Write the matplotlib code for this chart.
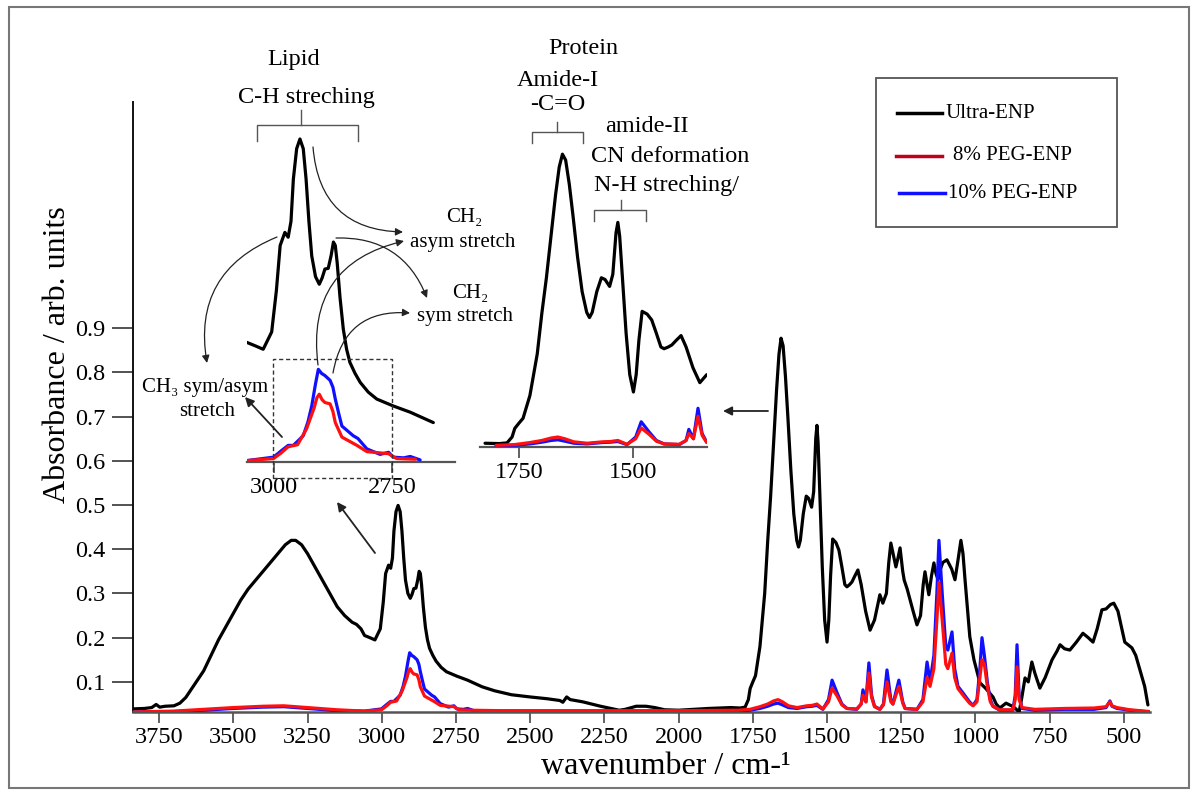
import numpy as np
import matplotlib
matplotlib.use("Agg")
import matplotlib.pyplot as plt
from matplotlib.patches import FancyArrowPatch, Rectangle
from matplotlib.lines import Line2D

plt.rcParams['font.family'] = ['Liberation Serif', 'DejaVu Serif']

# ---------------- data ----------------
ultra_wn = [3838, 3800, 3775, 3760, 3748, 3730, 3700, 3680, 3660, 3640, 3620, 3600, 3575, 3550,
            3525, 3500, 3475, 3450, 3425, 3400, 3375, 3350, 3325, 3305, 3290, 3270, 3250, 3225,
            3200, 3175, 3150, 3125, 3100, 3085, 3070, 3058, 3040, 3023, 3005, 2995, 2987, 2977,
            2970, 2964, 2959, 2952, 2945, 2938, 2932, 2926, 2920, 2912, 2904, 2898, 2892, 2885,
            2879, 2874, 2870, 2866, 2860, 2853, 2846, 2839, 2828, 2817, 2800, 2782,
            2747, 2711, 2662, 2620, 2563, 2500, 2443, 2400, 2390, 2377, 2365, 2323, 2263, 2200,
            2180, 2143, 2110, 2080, 2047, 2000, 1900, 1824, 1793, 1776, 1765, 1759, 1750, 1741, 1726, 1710,
            1700, 1690, 1680, 1670, 1662, 1655, 1648, 1640, 1632, 1622, 1612, 1602, 1596, 1590, 1580,
            1570, 1562, 1552, 1545, 1538, 1534, 1530, 1524, 1516, 1508, 1500, 1494, 1488, 1481, 1470,
            1460, 1450, 1440, 1433, 1424, 1416, 1406, 1396,
            1385, 1370, 1355, 1340, 1322, 1312, 1300, 1292, 1285, 1276, 1268, 1261, 1254, 1245, 1240,
            1230, 1210, 1197, 1185, 1176, 1170,
            1163, 1157, 1148, 1140, 1133, 1126, 1118, 1110, 1096, 1080, 1069, 1060, 1049, 1042, 1035,
            1019, 1005, 985, 965, 941,
            930, 918, 905, 897, 885, 875, 867, 853, 845, 833, 822, 810, 800, 783, 765, 742,
            725, 715, 700, 682, 660, 638, 620, 604, 590, 574, 560, 545, 534, 520, 505, 497,
            473, 460, 446, 430, 419]
ultra_abs = [0.039, 0.040, 0.042, 0.049, 0.043, 0.045, 0.046, 0.052, 0.065, 0.085, 0.105, 0.125, 0.160, 0.195,
             0.225, 0.255, 0.285, 0.310, 0.330, 0.350, 0.370, 0.390, 0.410, 0.420, 0.420, 0.410, 0.390, 0.360,
             0.330, 0.300, 0.270, 0.250, 0.235, 0.230, 0.220, 0.205, 0.200, 0.195, 0.220, 0.280, 0.345, 0.364,
             0.357, 0.380, 0.441, 0.485, 0.499, 0.485, 0.441, 0.380, 0.330, 0.300, 0.289, 0.298, 0.311, 0.312,
             0.330, 0.350, 0.345, 0.320, 0.270, 0.224, 0.195, 0.176, 0.160, 0.147, 0.133, 0.123,
             0.113, 0.104, 0.089, 0.080, 0.071, 0.066, 0.062, 0.058, 0.054, 0.066, 0.060, 0.055, 0.045, 0.036,
             0.038, 0.045, 0.045, 0.042, 0.037, 0.036, 0.040, 0.042, 0.041, 0.043, 0.060, 0.085, 0.100, 0.114, 0.180, 0.300,
             0.417, 0.520, 0.640, 0.760, 0.840, 0.877, 0.860, 0.790, 0.700, 0.580, 0.480, 0.420, 0.405, 0.420, 0.480,
             0.520, 0.515, 0.495, 0.530, 0.650, 0.680, 0.640, 0.520, 0.360, 0.240, 0.190, 0.240, 0.340, 0.423, 0.415,
             0.398, 0.360, 0.320, 0.315, 0.320, 0.326, 0.340, 0.353,
             0.320, 0.260, 0.217, 0.240, 0.297, 0.278, 0.300, 0.370, 0.414, 0.385, 0.360, 0.380, 0.403, 0.350, 0.330,
             0.310, 0.260, 0.229, 0.250, 0.320, 0.349,
             0.320, 0.297, 0.340, 0.369, 0.345, 0.331, 0.355, 0.370, 0.376, 0.355, 0.331, 0.370, 0.420, 0.390, 0.330,
             0.202, 0.150, 0.098, 0.085, 0.066,
             0.050, 0.041, 0.048, 0.052, 0.048, 0.045, 0.041, 0.032, 0.060, 0.109, 0.100, 0.145, 0.120, 0.086, 0.110, 0.150,
             0.170, 0.184, 0.175, 0.172, 0.190, 0.210, 0.200, 0.190, 0.220, 0.263, 0.265, 0.275, 0.278, 0.260, 0.215, 0.190,
             0.177, 0.160, 0.127, 0.090, 0.048]

peg10_wn = [3838, 3700, 3600, 3500, 3400, 3330, 3250, 3150, 3058, 3001, 2985, 2970, 2959, 2938, 2928, 2920,
            2912, 2906, 2899, 2892, 2881, 2875, 2870, 2862, 2856, 2832, 2822, 2803, 2775, 2757, 2747, 2725, 2711, 2690, 2600,
            2000, 1800, 1760, 1726, 1700, 1680, 1665, 1650, 1630, 1601, 1568, 1550, 1534, 1514, 1495,
            1483, 1466, 1450, 1433, 1400, 1385, 1379, 1369, 1359, 1350, 1340, 1322, 1310, 1298, 1285,
            1278, 1258, 1245, 1237, 1197, 1177, 1163, 1153, 1140, 1130, 1123, 1112, 1100, 1093, 1079,
            1070, 1059, 1042, 1020, 1008, 995, 985, 978, 970, 960, 950, 941, 918, 874, 866, 860, 853,
            843, 800, 700, 600, 560, 547, 540, 523, 480, 412]
peg10_abs = [0.032, 0.033, 0.036, 0.040, 0.043, 0.044, 0.040, 0.035, 0.034, 0.039, 0.048, 0.056, 0.056, 0.070, 0.090, 0.113,
             0.145, 0.166, 0.160, 0.157, 0.150, 0.140, 0.123, 0.100, 0.084, 0.070, 0.066, 0.051, 0.043, 0.046, 0.039, 0.038, 0.040, 0.035, 0.034,
             0.034, 0.034, 0.036, 0.040, 0.045, 0.050, 0.052, 0.048, 0.042, 0.040, 0.044, 0.045, 0.047, 0.038, 0.060,
             0.104, 0.075, 0.050, 0.040, 0.038, 0.050, 0.082, 0.055, 0.143, 0.070, 0.045, 0.038, 0.050, 0.127, 0.060,
             0.050, 0.104, 0.055, 0.040, 0.038, 0.060, 0.145, 0.100, 0.160, 0.300, 0.420, 0.300, 0.180, 0.172, 0.213,
             0.130, 0.090, 0.075, 0.055, 0.047, 0.060, 0.130, 0.200, 0.160, 0.100, 0.060, 0.045, 0.036, 0.036, 0.070, 0.184, 0.070,
             0.040, 0.036, 0.038, 0.038, 0.042, 0.057, 0.045, 0.040, 0.036, 0.032]

peg8_wn = [3838, 3700, 3600, 3500, 3400, 3330, 3250, 3150, 3058, 3001, 2985, 2970, 2950, 2931, 2915,
           2909, 2904, 2898, 2892, 2881, 2875, 2870, 2856, 2824, 2803, 2757, 2740, 2700, 2600, 2000, 1800, 1760, 1726,
           1700, 1680, 1665, 1650, 1630, 1601, 1568, 1550, 1534, 1514, 1495, 1483, 1466, 1450, 1433,
           1400, 1385, 1379, 1369, 1359, 1350, 1340, 1322, 1310, 1298, 1285, 1278, 1258, 1245, 1237,
           1197, 1177, 1163, 1153, 1140, 1130, 1123, 1112, 1100, 1093, 1079, 1070, 1059, 1042, 1020,
           1008, 995, 985, 978, 970, 960, 950, 941, 918, 874, 866, 860, 853, 843, 800, 700, 600, 560,
           547, 540, 523, 480, 412]
peg8_abs = [0.032, 0.034, 0.038, 0.042, 0.045, 0.046, 0.042, 0.037, 0.034, 0.037, 0.045, 0.054, 0.057, 0.080, 0.110,
            0.125, 0.130, 0.122, 0.118, 0.116, 0.105, 0.089, 0.068, 0.056, 0.047, 0.044, 0.037, 0.036, 0.035, 0.035, 0.036, 0.038, 0.044,
            0.050, 0.057, 0.060, 0.055, 0.046, 0.042, 0.046, 0.047, 0.050, 0.039, 0.055, 0.086, 0.068, 0.048, 0.040,
            0.039, 0.050, 0.070, 0.055, 0.120, 0.065, 0.044, 0.038, 0.048, 0.100, 0.055, 0.050, 0.090, 0.052, 0.040,
            0.038, 0.055, 0.110, 0.090, 0.130, 0.240, 0.325, 0.240, 0.140, 0.130, 0.165, 0.110, 0.085, 0.070, 0.052,
            0.046, 0.055, 0.110, 0.150, 0.140, 0.090, 0.055, 0.045, 0.037, 0.037, 0.060, 0.134, 0.060, 0.042, 0.038,
            0.040, 0.041, 0.044, 0.055, 0.046, 0.042, 0.037, 0.033]

series_names = ["Ultra-ENP", "8% PEG-ENP", "10% PEG-ENP"]
x_ticks = [3750, 3500, 3250, 3000, 2750, 2500, 2250, 2000, 1750, 1500, 1250, 1000, 750, 500]
y_ticks = [0.1, 0.2, 0.3, 0.4, 0.5, 0.6, 0.7, 0.8, 0.9]
lipid_ticks = [3000, 2750]
protein_ticks = [1750, 1500]

# ---------------- styling ----------------
W, H = 1198, 794
BLACK, RED, BLUE = "#000000", "#FF1010", "#1010FF"
LEG_RED = "#C0001A"
LW = 2.3
fig = plt.figure(figsize=(W / 100, H / 100), dpi=100)


def fx(x):
    return x / W


def fy(y):
    return 1 - y / H


def add_axes_px(l, t, r, b):
    return fig.add_axes([l / W, 1 - b / H, (r - l) / W, (b - t) / H])


uw, ua = np.array(ultra_wn), np.array(ultra_abs)
bw, ba = np.array(peg10_wn), np.array(peg10_abs)
rw, ra = np.array(peg8_wn), np.array(peg8_abs)
line_kw = dict(lw=LW, solid_joinstyle="round", solid_capstyle="round")

# ---------------- main axes ----------------
ax = add_axes_px(133, 102, 1150, 712)
ax.plot(uw, ua, color=BLACK, zorder=3, **line_kw)
ax.plot(bw, ba, color=BLUE, zorder=4, **line_kw)
ax.plot(rw, ra, color=RED, zorder=5, **line_kw)
ax.set_xlim(3838, 412)
ax.set_ylim(0.032, 1.411)
for s in ("top", "right"):
    ax.spines[s].set_visible(False)
ax.spines["bottom"].set_color("#555555")
ax.spines["bottom"].set_linewidth(1.8)
ax.spines["left"].set_color("#111111")
ax.spines["left"].set_linewidth(1.4)
ax.set_xticks(x_ticks)
ax.set_xticklabels([str(t) for t in x_ticks], fontsize=17.5)
ax.set_yticks(y_ticks)
ax.set_yticklabels([f"{t:.1f}" for t in y_ticks], fontsize=17.5)
ax.tick_params(axis="y", length=15, width=1.3, color="#444444", pad=5)
ax.tick_params(axis="x", length=8, width=1.3, color="#555555", pad=3)
ax.patch.set_alpha(0)

fig.text(fx(666), fy(766), "wavenumber / cm-\u00b9", fontsize=23, ha="center", va="center")
fig.text(fx(58), fy(355), "Absorbance / arb. units", fontsize=23, rotation=90,
         ha="center", va="center")


# ---------------- insets ----------------
def inset(l, t, r, b, xlim, ylim, lo, hi, ticks):
    ia = add_axes_px(l, t, r, b)
    for w, a, c, z in ((uw, ua, BLACK, 3), (bw, ba, BLUE, 4), (rw, ra, RED, 5)):
        m = (w >= lo) & (w <= hi)
        ia.plot(w[m], a[m], color=c, zorder=z, **line_kw)
    ia.set_xlim(*xlim)
    ia.set_ylim(*ylim)
    for s in ("top", "right", "left"):
        ia.spines[s].set_visible(False)
    ia.spines["bottom"].set_color("#555555")
    ia.spines["bottom"].set_linewidth(1.6)
    ia.set_yticks([])
    ia.set_xticks(ticks)
    ia.set_xticklabels([str(t) for t in ticks], fontsize=17.5)
    ia.tick_params(axis="x", length=8, width=1.3, color="#555555", pad=3)
    ia.patch.set_alpha(0)
    return ia


inset(246.7, 130, 455, 462, (3058, 2616), (0.032, 0.512), 2662, 3058, lipid_ticks)
inset(480, 140, 706.7, 446.7, (1835, 1340), (0.032, 0.918), 1340, 1835, protein_ticks)


# ---------------- annotations ----------------
def text(x, y, s, size=15, **kw):
    fig.text(fx(x), fy(y), s, fontsize=size, ha="center", va="center", **kw)


def line(xs, ys, color="#555555", lw=1.0, ls="-"):
    fig.add_artist(Line2D([fx(x) for x in xs], [fy(y) for y in ys], color=color, lw=lw,
                          ls=ls, transform=fig.transFigure))


def bracket(x0, x1, y, drop, xc, rise):
    line([x0, x0, x1, x1], [y + drop, y, y, y + drop])
    line([xc, xc], [y, y - rise])


def arrow(p0, p1, rad=0.0, lw=0.9, ms=11, color="#222222"):
    a = FancyArrowPatch((fx(p0[0]), fy(p0[1])), (fx(p1[0]), fy(p1[1])),
                        transform=fig.transFigure, connectionstyle=f"arc3,rad={rad}",
                        arrowstyle="-|>", mutation_scale=ms, lw=lw, color=color,
                        shrinkA=0, shrinkB=0)
    fig.add_artist(a)


text(294, 59, "Lipid", 17.5)
text(306, 98, "C-H streching", 17.5)
bracket(257, 358, 125, 16, 301, 15)

text(583, 48, "Protein", 17.5)
text(558, 80, "Amide-I", 17.5)
text(558, 104, "-C=O", 17.5)
bracket(532, 583, 132, 11, 557, 10)
text(647, 127, "amide-II", 17.5)
text(670, 157, "CN deformation", 17.5)
text(667, 185, "N-H streching/", 17.5)
bracket(594, 646, 210, 11, 621, 10)

text(464, 217, "CH\u2082", 15)
text(463, 242, "asym stretch", 15)
text(470, 293, "CH\u2082", 15)
text(465, 317, "sym stretch", 15)
text(205, 387, "CH\u2083 sym/asym", 15)
text(207, 411, "stretch", 15)

# dashed box
fig.add_artist(Rectangle((fx(273), fy(478)), fx(392) - fx(273), fy(359) - fy(478),
                         transform=fig.transFigure, fill=False, ls=(0, (3, 2)),
                         lw=1.0, edgecolor="#333333"))

# curved arrows
arrow((313, 147), (403, 232), rad=0.45)
arrow((336, 238), (427, 298), rad=-0.35)
arrow((277, 237), (207, 363), rad=0.4)
arrow((318, 365), (404, 241), rad=-0.45)
arrow((333, 373), (410, 313), rad=-0.45)
# straight arrows
arrow((282, 437), (245, 397), lw=1.3, ms=13)
arrow((375, 553), (337, 502), lw=1.3, ms=13)
arrow((768, 411), (723, 411), lw=1.3, ms=13)

# legend (drawn by hand, like the reference)
fig.add_artist(Rectangle((fx(876), fy(227)), fx(1117) - fx(876), fy(78) - fy(227),
                         transform=fig.transFigure, fill=False, lw=1.3, edgecolor="#555555"))
line([897, 942], [113, 113], color=BLACK, lw=2.5)
line([896, 942], [156, 156], color=LEG_RED, lw=2.5)
line([899, 945], [193, 193], color=BLUE, lw=2.5)
fig.text(fx(946), fy(113), series_names[0], fontsize=15, ha="left", va="center")
fig.text(fx(953), fy(156), series_names[1], fontsize=15, ha="left", va="center")
fig.text(fx(948), fy(193), series_names[2], fontsize=15, ha="left", va="center")

# outer frame
fig.add_artist(Rectangle((fx(9), fy(788)), fx(1189) - fx(9), fy(7) - fy(788),
                         transform=fig.transFigure, fill=False, lw=1.5, edgecolor="#777777"))

fig.savefig("out.png", dpi=100)
